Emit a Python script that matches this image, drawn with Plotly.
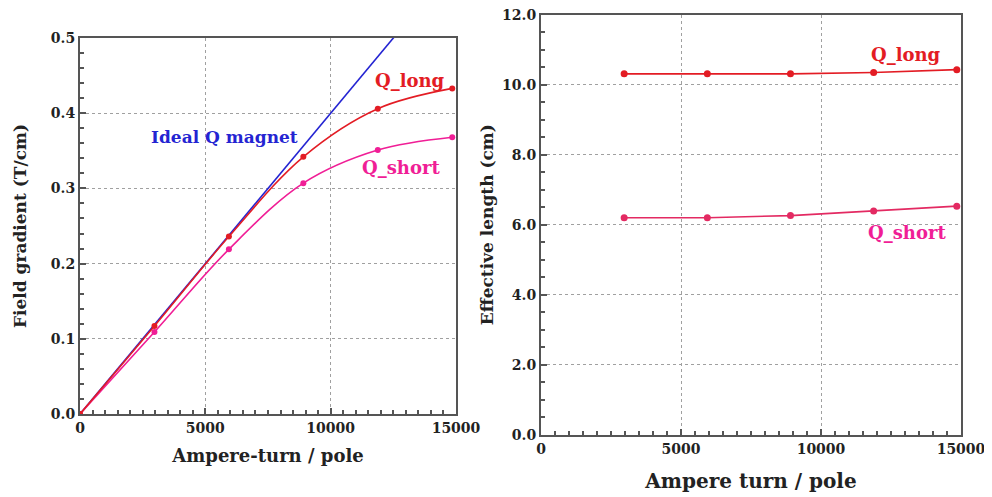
import plotly.graph_objects as go

# ---- data ----
at_left = [0, 2970, 5940, 8910, 11880, 14850]
q_long_grad = [0.0, 0.117, 0.236, 0.342, 0.406, 0.433]
q_short_grad = [0.0, 0.109, 0.219, 0.307, 0.351, 0.368]
ideal_x = [0, 15000]
ideal_y = [0.0, 0.6]

at_right = [2970, 5940, 8910, 11880, 14850]
q_long_len = [10.31, 10.31, 10.31, 10.35, 10.43]
q_short_len = [6.20, 6.20, 6.26, 6.39, 6.53]

x_ticks = [0, 5000, 10000, 15000]
x_ticktext = ["0", "5000", "10000", "15000"]
gl_ticks = [0, 0.1, 0.2, 0.3, 0.4, 0.5]
gl_ticktext = ["0.0", "0.1", "0.2", "0.3", "0.4", "0.5"]
len_ticks = [0, 2, 4, 6, 8, 10, 12]
len_ticktext = ["0.0", "2.0", "4.0", "6.0", "8.0", "10.0", "12.0"]

BLUE = "#2424d2"
RED = "#e31c24"
PINK = "#f01e96"
PINK2 = "#e32a62"
FONT = "DejaVu Serif"

fig = go.Figure()

fig.add_trace(go.Scatter(x=ideal_x, y=ideal_y, mode="lines",
                         line=dict(color=BLUE, width=1.6),
                         xaxis="x", yaxis="y", showlegend=False))
fig.add_trace(go.Scatter(x=at_left, y=q_short_grad, mode="lines+markers",
                         line=dict(color=PINK, width=1.6, shape="spline"),
                         marker=dict(color=PINK, size=6),
                         xaxis="x", yaxis="y", showlegend=False))
fig.add_trace(go.Scatter(x=at_left, y=q_long_grad, mode="lines+markers",
                         line=dict(color=RED, width=1.6, shape="spline"),
                         marker=dict(color=RED, size=6),
                         xaxis="x", yaxis="y", showlegend=False))

fig.add_trace(go.Scatter(x=at_right, y=q_long_len, mode="lines+markers",
                         line=dict(color=RED, width=1.6),
                         marker=dict(color=RED, size=7),
                         xaxis="x2", yaxis="y2", showlegend=False))
fig.add_trace(go.Scatter(x=at_right, y=q_short_len, mode="lines+markers",
                         line=dict(color=PINK2, width=1.6),
                         marker=dict(color=PINK2, size=7),
                         xaxis="x2", yaxis="y2", showlegend=False))

# page body has an 8px margin, so the figure is placed at (8, 8)
OFF = 8
W, H = 992 - OFF, 497 - OFF

def px_x(p):
    return (p - OFF) / W

def px_y(p):
    return (H - (p - OFF)) / H

tickfont = dict(family=FONT, size=14, color="#222", weight="bold")

common = dict(showline=True, mirror=True, linecolor="#555", linewidth=2,
              ticks="inside", ticklen=6, tickcolor="#555", tickwidth=1.5,
              showgrid=True, gridcolor="#a0a0a0", griddash="dot", gridwidth=1,
              zeroline=False, tickfont=tickfont, automargin=False,
              ticklabeloverflow="allow")

minor_common = dict(ticks="inside", ticklen=4, tickcolor="#555", showgrid=False)

fig.update_layout(
    width=W, height=H, autosize=False,
    margin=dict(l=0, r=0, t=0, b=0),
    plot_bgcolor="white", paper_bgcolor="white",
    xaxis=dict(domain=[px_x(80), px_x(456)], range=[0, 15000],
               tickvals=x_ticks, ticktext=x_ticktext,
               minor=dict(dtick=500, **minor_common),
               title=dict(text="Ampere-turn / pole", standoff=15,
                          font=dict(family=FONT, size=18, color="#222", weight="bold")),
               anchor="y", **common),
    yaxis=dict(domain=[px_y(414), px_y(38)], range=[0, 0.5],
               tickvals=gl_ticks, ticktext=gl_ticktext,
               minor=dict(dtick=0.02, **minor_common),
               title=dict(text="Field gradient (T/cm)", standoff=20,
                          font=dict(family=FONT, size=17, color="#222", weight="bold")),
               anchor="x", **common),
    xaxis2=dict(domain=[px_x(541), px_x(961)], range=[0, 15000],
                tickvals=x_ticks, ticktext=x_ticktext,
                minor=dict(dtick=500, **minor_common),
                title=dict(text="Ampere turn / pole", standoff=18,
                           font=dict(family=FONT, size=20, color="#222", weight="bold")),
                anchor="y2", **common),
    yaxis2=dict(domain=[px_y(434.7), px_y(14.7)], range=[0, 12],
                tickvals=len_ticks, ticktext=len_ticktext,
                minor=dict(dtick=0.5, **minor_common),
                title=dict(text="Effective length (cm)", standoff=4,
                           font=dict(family=FONT, size=17, color="#222", weight="bold")),
                anchor="x2", **common),
)

def ann_font(c, s):
    return dict(family=FONT, size=s, color=c, weight="bold")

fig.add_annotation(x=5745, y=0.368, xref="x", yref="y", text="Ideal Q magnet",
                   showarrow=False, font=ann_font(BLUE, 17))
fig.add_annotation(x=13165, y=0.443, xref="x", yref="y", text="Q_long",
                   showarrow=False, font=ann_font(RED, 18))
fig.add_annotation(x=12806, y=0.328, xref="x", yref="y", text="Q_short",
                   showarrow=False, font=ann_font(PINK, 18))
fig.add_annotation(x=13036, y=10.85, xref="x2", yref="y2", text="Q_long",
                   showarrow=False, font=ann_font(RED, 18))
fig.add_annotation(x=13071, y=5.79, xref="x2", yref="y2", text="Q_short",
                   showarrow=False, font=ann_font(PINK, 18))

fig.write_html("out.html")
